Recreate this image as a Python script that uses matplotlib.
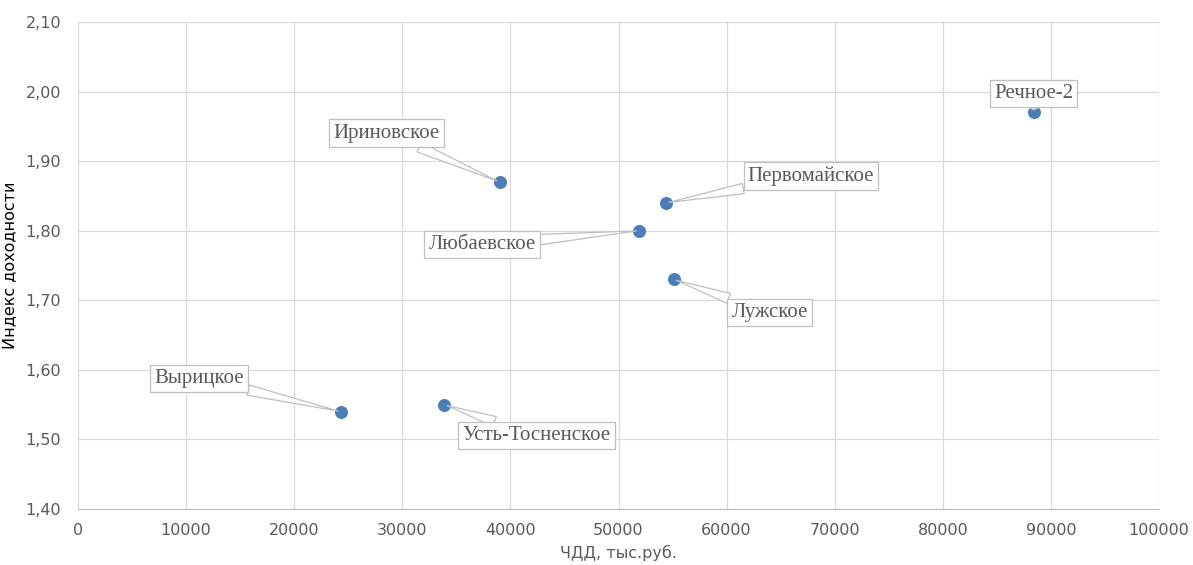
import matplotlib
matplotlib.use("Agg")
from matplotlib import pyplot as plt

names = ["Речное-2", "Ириновское", "Первомайское", "Любаевское",
         "Лужское", "Вырицкое", "Усть-Тосненское"]
npv = [88400, 39000, 54400, 51900, 55100, 24300, 33900]
pi = [1.97, 1.87, 1.84, 1.80, 1.73, 1.54, 1.55]

# label box offsets from the point, in pixels (x right, y up)
offsets = [(0, 19), (-113, 49), (145, 27), (-157, -14),
           (96, -33), (-142, 33), (92, -31)]

plt.rcParams['font.family'] = ['Liberation Sans Narrow', 'DejaVu Sans']

fig = plt.figure(figsize=(11.93, 5.65), dpi=100)
ax = fig.add_axes([0.0654, 0.0991, 0.9061, 0.8619])

ax.scatter(npv, pi, s=70, color="#4a7ebb", zorder=3)

for name, x, y, off in zip(names, npv, pi, offsets):
    ax.annotate(name, (x, y), xytext=off, textcoords="offset pixels",
                ha="center", va="center", fontsize=15, color="#595959",
                family=["Liberation Serif", "DejaVu Serif"], zorder=4,
                bbox=dict(boxstyle="square,pad=0.2", fc="white", ec="#bfbfbf", lw=0.9),
                arrowprops=dict(arrowstyle="wedge,tail_width=0.5,shrink_factor=0.5",
                                fc="white", ec="#bfbfbf", lw=0.9,
                                shrinkA=0, shrinkB=2))

ax.set_xlim(0, 100000)
ax.set_ylim(1.4, 2.1)
ax.set_xticks(range(0, 100001, 10000))
ax.set_yticks([1.4 + 0.1 * i for i in range(8)])
ax.set_yticklabels([f"{1.4 + 0.1 * i:.2f}".replace(".", ",") for i in range(8)])
ax.grid(True, color="#d9d9d9", lw=0.9)
ax.set_axisbelow(True)
for s in ["top", "right", "left"]:
    ax.spines[s].set_visible(False)
ax.spines["bottom"].set_color("#bfbfbf")
ax.tick_params(length=0, labelsize=11.5, colors="#595959", pad=10)
ax.tick_params(axis="y", pad=12)
ax.set_xlabel("ЧДД, тыс.руб.", fontsize=11.5, color="#595959")
ax.xaxis.set_label_coords(0.5, -0.074)
ax.set_ylabel("Индекс доходности", fontsize=11.5, color="#000000")
ax.yaxis.set_label_coords(-0.056, 0.5)

fig.savefig("out.png", dpi=100, facecolor="white")
